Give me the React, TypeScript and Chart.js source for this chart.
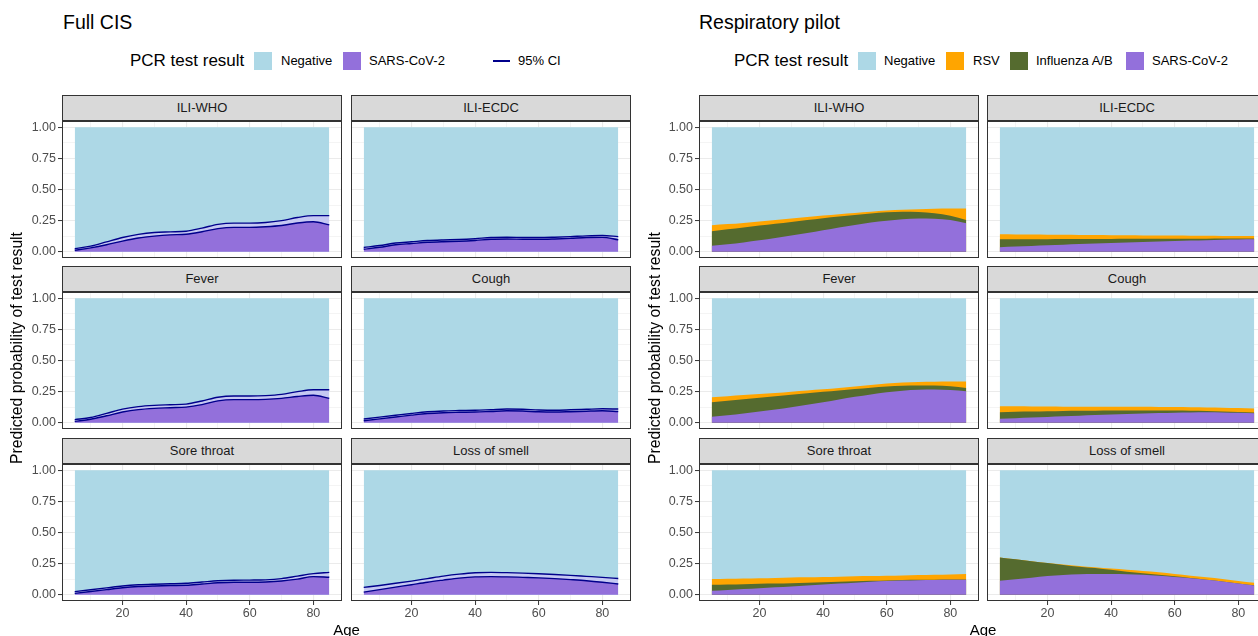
import React, { useEffect, useRef } from "react";
import { Chart, registerables } from "chart.js";

Chart.register(...registerables);

const FONT = "'Liberation Sans', Arial, Helvetica, sans-serif";

// ---------- data ----------
const AGES = [5, 10, 15, 20, 25, 30, 35, 40, 45, 50, 55, 60, 65, 70, 75, 80, 85];
const FACETS = ["ILI-WHO", "ILI-ECDC", "Fever", "Cough", "Sore throat", "Loss of smell"];
const X_GRID = [10, 20, 30, 40, 50, 60, 70, 80];
const X_LABELS = [20, 40, 60, 80];
const Y_GRID = [0, 0.125, 0.25, 0.375, 0.5, 0.625, 0.75, 0.875, 1];
const Y_LABELS = [0, 0.25, 0.5, 0.75, 1];
const TOTAL = [1, 1, 1, 1, 1, 1, 1, 1, 1, 1, 1, 1, 1, 1, 1, 1, 1];

// Full CIS: SARS-CoV-2 predicted probability with 95% CI
const cisWhoEst = [0.015, 0.035, 0.06, 0.09, 0.115, 0.13, 0.14, 0.145, 0.165, 0.19, 0.2, 0.2, 0.205, 0.215, 0.235, 0.245, 0.22];
const cisWhoLo = [0.012, 0.031, 0.056, 0.086, 0.111, 0.126, 0.136, 0.141, 0.161, 0.186, 0.196, 0.196, 0.201, 0.211, 0.231, 0.241, 0.216];
const cisWhoHi = [0.025, 0.045, 0.08, 0.115, 0.14, 0.155, 0.16, 0.165, 0.19, 0.22, 0.23, 0.23, 0.235, 0.25, 0.275, 0.29, 0.29];

const cisEcdcEst = [0.024, 0.04, 0.06, 0.07, 0.08, 0.085, 0.088, 0.095, 0.105, 0.107, 0.105, 0.104, 0.107, 0.112, 0.118, 0.12, 0.1];
const cisEcdcLo = [0.02, 0.036, 0.056, 0.066, 0.076, 0.081, 0.084, 0.091, 0.101, 0.103, 0.101, 0.1, 0.103, 0.108, 0.114, 0.116, 0.096];
const cisEcdcHi = [0.034, 0.05, 0.07, 0.08, 0.09, 0.095, 0.098, 0.105, 0.115, 0.117, 0.115, 0.114, 0.117, 0.122, 0.128, 0.131, 0.122];

const cisFeverEst = [0.015, 0.032, 0.06, 0.09, 0.11, 0.12, 0.125, 0.13, 0.15, 0.18, 0.19, 0.19, 0.192, 0.2, 0.215, 0.225, 0.2];
const cisFeverLo = [0.011, 0.028, 0.056, 0.086, 0.106, 0.116, 0.121, 0.126, 0.146, 0.176, 0.186, 0.186, 0.188, 0.196, 0.211, 0.221, 0.196];
const cisFeverHi = [0.025, 0.042, 0.075, 0.11, 0.13, 0.14, 0.145, 0.15, 0.175, 0.205, 0.215, 0.215, 0.218, 0.228, 0.25, 0.265, 0.265];

const cisCoughEst = [0.02, 0.035, 0.05, 0.065, 0.078, 0.085, 0.088, 0.09, 0.095, 0.1, 0.098, 0.092, 0.09, 0.093, 0.097, 0.1, 0.095];
const cisCoughLo = [0.016, 0.031, 0.046, 0.061, 0.074, 0.081, 0.084, 0.086, 0.091, 0.096, 0.094, 0.088, 0.086, 0.089, 0.093, 0.096, 0.091];
const cisCoughHi = [0.03, 0.045, 0.06, 0.075, 0.088, 0.095, 0.098, 0.1, 0.105, 0.11, 0.108, 0.103, 0.101, 0.104, 0.108, 0.112, 0.11];

const cisSoreEst = [0.015, 0.03, 0.045, 0.06, 0.07, 0.075, 0.078, 0.08, 0.09, 0.1, 0.105, 0.105, 0.107, 0.115, 0.13, 0.15, 0.145];
const cisSoreLo = [0.011, 0.026, 0.041, 0.056, 0.066, 0.071, 0.074, 0.076, 0.086, 0.096, 0.101, 0.101, 0.103, 0.111, 0.126, 0.146, 0.141];
const cisSoreHi = [0.025, 0.04, 0.055, 0.07, 0.08, 0.085, 0.088, 0.092, 0.102, 0.112, 0.117, 0.118, 0.12, 0.13, 0.15, 0.17, 0.18];

const cisSmellEst = [0.025, 0.045, 0.065, 0.085, 0.105, 0.122, 0.138, 0.148, 0.15, 0.148, 0.144, 0.14, 0.134, 0.126, 0.117, 0.105, 0.091];
const cisSmellLo = [0.021, 0.041, 0.061, 0.081, 0.101, 0.118, 0.134, 0.144, 0.146, 0.144, 0.14, 0.136, 0.13, 0.122, 0.113, 0.101, 0.087];
const cisSmellHi = [0.059, 0.075, 0.092, 0.11, 0.13, 0.15, 0.166, 0.177, 0.18, 0.178, 0.174, 0.169, 0.163, 0.156, 0.148, 0.14, 0.131];

// Respiratory pilot: predicted probability of each positive result
const respWhoSars = [0.048, 0.06, 0.075, 0.092, 0.11, 0.13, 0.15, 0.172, 0.195, 0.215, 0.235, 0.25, 0.262, 0.267, 0.265, 0.255, 0.23];
const respWhoFlu = [0.117, 0.12, 0.12, 0.118, 0.115, 0.11, 0.105, 0.098, 0.088, 0.08, 0.073, 0.068, 0.06, 0.053, 0.045, 0.035, 0.025];
const respWhoRsv = [0.047, 0.042, 0.037, 0.033, 0.03, 0.027, 0.024, 0.021, 0.019, 0.017, 0.014, 0.014, 0.016, 0.022, 0.035, 0.057, 0.093];

const respEcdcSars = [0.037, 0.042, 0.047, 0.052, 0.057, 0.062, 0.066, 0.07, 0.074, 0.078, 0.082, 0.086, 0.09, 0.093, 0.096, 0.098, 0.1];
const respEcdcFlu = [0.063, 0.058, 0.054, 0.049, 0.045, 0.04, 0.037, 0.033, 0.03, 0.026, 0.023, 0.019, 0.015, 0.012, 0.01, 0.008, 0.007];
const respEcdcRsv = [0.04, 0.039, 0.037, 0.036, 0.034, 0.033, 0.031, 0.03, 0.028, 0.027, 0.026, 0.025, 0.024, 0.023, 0.021, 0.02, 0.02];

const respFeverSars = [0.048, 0.06, 0.075, 0.09, 0.107, 0.125, 0.145, 0.165, 0.187, 0.208, 0.228, 0.245, 0.258, 0.265, 0.267, 0.263, 0.253];
const respFeverFlu = [0.117, 0.116, 0.113, 0.11, 0.106, 0.1, 0.092, 0.084, 0.073, 0.063, 0.054, 0.047, 0.04, 0.035, 0.033, 0.03, 0.027];
const respFeverRsv = [0.04, 0.037, 0.034, 0.031, 0.027, 0.025, 0.023, 0.021, 0.02, 0.021, 0.022, 0.023, 0.025, 0.028, 0.03, 0.038, 0.051];

const respCoughSars = [0.032, 0.037, 0.042, 0.047, 0.052, 0.057, 0.062, 0.066, 0.07, 0.074, 0.078, 0.081, 0.083, 0.084, 0.083, 0.08, 0.076];
const respCoughFlu = [0.053, 0.051, 0.048, 0.045, 0.042, 0.039, 0.035, 0.032, 0.029, 0.025, 0.021, 0.017, 0.013, 0.01, 0.008, 0.007, 0.006];
const respCoughRsv = [0.048, 0.044, 0.041, 0.038, 0.035, 0.033, 0.031, 0.03, 0.029, 0.029, 0.028, 0.028, 0.029, 0.029, 0.03, 0.031, 0.033];

const respSoreSars = [0.032, 0.039, 0.046, 0.053, 0.06, 0.067, 0.075, 0.083, 0.09, 0.097, 0.104, 0.11, 0.114, 0.117, 0.119, 0.12, 0.12];
const respSoreFlu = [0.048, 0.044, 0.039, 0.035, 0.03, 0.026, 0.022, 0.017, 0.014, 0.011, 0.008, 0.005, 0.004, 0.003, 0.002, 0.002, 0.003];
const respSoreRsv = [0.046, 0.045, 0.045, 0.045, 0.045, 0.045, 0.043, 0.043, 0.041, 0.04, 0.038, 0.038, 0.037, 0.038, 0.039, 0.041, 0.043];

const respSmellSars = [0.112, 0.125, 0.137, 0.15, 0.158, 0.164, 0.166, 0.167, 0.165, 0.16, 0.152, 0.142, 0.132, 0.12, 0.106, 0.09, 0.075];
const respSmellFlu = [0.188, 0.16, 0.133, 0.105, 0.082, 0.062, 0.049, 0.033, 0.02, 0.012, 0.008, 0.006, 0.002, 0.001, 0.001, 0.001, 0.001];
const respSmellRsv = [0, 0, 0, 0.001, 0.003, 0.005, 0.005, 0.01, 0.015, 0.018, 0.02, 0.019, 0.019, 0.019, 0.019, 0.02, 0.02];

// ---------- style ----------
const C_NEG = "#ADD8E6";
const C_SARS = "#9370DB";
const C_FLU = "#556B2F";
const C_RSV = "#FFA500";
const C_CI = "#00008B";
const C_BAND = "rgba(205,195,245,0.75)";

const PW = 280;
const PH = 137;
const STRIP_H = 26;
const ROW_TOPS = [121, 292, 464];
const AXIS_W = 50;
const AXIS_H = 24;

const pts = (v: number[]) => AGES.map((a, i) => ({ x: a, y: v[i] }));

function cisSets(est: number[], lo: number[], hi: number[]) {
  return [
    { label: "Negative", data: pts(TOTAL), backgroundColor: C_NEG, borderWidth: 0, fill: "origin", order: 3 },
    { label: "SARS-CoV-2", data: pts(est), backgroundColor: C_SARS, borderWidth: 0, fill: "origin", order: 2 },
    { label: "lower", data: pts(lo), borderColor: C_CI, borderWidth: 1.4, fill: false, order: 0 },
    { label: "upper", data: pts(hi), borderColor: C_CI, borderWidth: 1.4, backgroundColor: C_BAND, fill: "-1", order: 0 },
  ];
}

// stacked: order sets both stacking (low first) and drawing (high first)
function respSets(sars: number[], flu: number[], rsv: number[]) {
  return [
    { label: "Negative", data: pts(TOTAL), stack: "neg", backgroundColor: C_NEG, borderWidth: 0, fill: "origin", order: 3 },
    { label: "SARS-CoV-2", data: pts(sars), stack: "pos", backgroundColor: C_SARS, borderWidth: 0, fill: "origin", order: 0 },
    { label: "Influenza A/B", data: pts(flu), stack: "pos", backgroundColor: C_FLU, borderWidth: 0, fill: "origin", order: 1 },
    { label: "RSV", data: pts(rsv), stack: "pos", backgroundColor: C_RSV, borderWidth: 0, fill: "origin", order: 2 },
  ];
}

const CIS_TABLE = [
  () => cisSets(cisWhoEst, cisWhoLo, cisWhoHi),
  () => cisSets(cisEcdcEst, cisEcdcLo, cisEcdcHi),
  () => cisSets(cisFeverEst, cisFeverLo, cisFeverHi),
  () => cisSets(cisCoughEst, cisCoughLo, cisCoughHi),
  () => cisSets(cisSoreEst, cisSoreLo, cisSoreHi),
  () => cisSets(cisSmellEst, cisSmellLo, cisSmellHi),
];
const RESP_TABLE = [
  () => respSets(respWhoSars, respWhoFlu, respWhoRsv),
  () => respSets(respEcdcSars, respEcdcFlu, respEcdcRsv),
  () => respSets(respFeverSars, respFeverFlu, respFeverRsv),
  () => respSets(respCoughSars, respCoughFlu, respCoughRsv),
  () => respSets(respSoreSars, respSoreFlu, respSoreRsv),
  () => respSets(respSmellSars, respSmellFlu, respSmellRsv),
];

type PanelProps = {
  x: number;
  y: number;
  title: string;
  firstCol: boolean;
  lastRow: boolean;
  stacked: boolean;
  makeSets: () => any[];
};

function Panel({ x, y, title, firstCol, lastRow, stacked, makeSets }: PanelProps) {
  const ref = useRef<HTMLCanvasElement>(null);
  const padL = firstCol ? AXIS_W : 0;
  const padB = lastRow ? AXIS_H : 0;

  useEffect(() => {
    const tickFont = { family: FONT, size: 12.5, lineHeight: 1 };
    const chart = new Chart(ref.current as HTMLCanvasElement, {
      type: "line",
      data: { datasets: makeSets() as any },
      options: {
        responsive: false,
        animation: false,
        devicePixelRatio: 1,
        layout: { padding: 0 },
        events: [],
        plugins: { legend: { display: false }, tooltip: { enabled: false }, title: { display: false } },
        elements: { point: { radius: 0 }, line: { cubicInterpolationMode: "monotone" } },
        scales: {
          x: {
            type: "linear",
            min: 1,
            max: 89,
            afterBuildTicks: (s: any) => {
              s.ticks = X_GRID.map((v) => ({ value: v }));
            },
            afterFit: (s: any) => {
              s.height = padB;
              s.paddingLeft = 0;
              s.paddingRight = 0;
              s.paddingTop = 0;
              s.paddingBottom = 0;
            },
            ticks: {
              display: lastRow,
              autoSkip: false,
              maxRotation: 0,
              padding: 2,
              color: "#4D4D4D",
              font: tickFont,
              callback: (v: any) => (X_LABELS.includes(Number(v)) ? String(v) : ""),
            },
            grid: {
              color: "#EBEBEB",
              lineWidth: (c: any) => (X_LABELS.includes(c.tick?.value) ? 1.1 : 0.55),
              drawTicks: lastRow,
              tickLength: 4,
              tickWidth: 1,
              tickColor: (c: any) => (X_LABELS.includes(c.tick?.value) ? "#333333" : "rgba(0,0,0,0)"),
            },
            border: { display: false },
          },
          y: {
            type: "linear",
            min: -0.05,
            max: 1.05,
            stacked: stacked,
            afterBuildTicks: (s: any) => {
              s.ticks = Y_GRID.map((v) => ({ value: v }));
            },
            afterFit: (s: any) => {
              s.width = padL;
              s.paddingLeft = 0;
              s.paddingRight = 0;
              s.paddingTop = 0;
              s.paddingBottom = 0;
            },
            ticks: {
              display: firstCol,
              autoSkip: false,
              padding: 2,
              color: "#4D4D4D",
              font: tickFont,
              callback: (v: any) => (Y_LABELS.includes(Number(v)) ? Number(v).toFixed(2) : ""),
            },
            grid: {
              color: "#EBEBEB",
              lineWidth: (c: any) => (Y_LABELS.includes(c.tick?.value) ? 1.1 : 0.55),
              drawTicks: firstCol,
              tickLength: 4,
              tickWidth: 1,
              tickColor: (c: any) => (Y_LABELS.includes(c.tick?.value) ? "#333333" : "rgba(0,0,0,0)"),
            },
            border: { display: false },
          },
        },
      } as any,
    });
    return () => chart.destroy();
  }, []);

  return (
    <>
      <div
        style={{
          position: "absolute",
          left: x,
          top: y - STRIP_H,
          width: PW,
          height: STRIP_H,
          boxSizing: "border-box",
          background: "#D9D9D9",
          border: "1px solid #333333",
          color: "#1A1A1A",
          fontSize: 13,
          lineHeight: `${STRIP_H - 2}px`,
          textAlign: "center",
        }}
      >
        {title}
      </div>
      <canvas
        ref={ref}
        width={PW + padL}
        height={PH + padB}
        style={{ position: "absolute", left: x - padL, top: y, width: PW + padL, height: PH + padB }}
      />
      <div
        style={{
          position: "absolute",
          left: x,
          top: y,
          width: PW,
          height: PH,
          boxSizing: "border-box",
          border: "1px solid #333333",
          pointerEvents: "none",
        }}
      />
    </>
  );
}

type LegendItem = { kind: "box" | "line"; color: string; label: string; boxX: number; textX: number };

function Legend({ titleX, items }: { titleX: number; items: LegendItem[] }) {
  return (
    <>
      <div style={{ position: "absolute", left: titleX, top: 50, fontSize: 17, lineHeight: "22px", color: "#000" }}>
        PCR test result
      </div>
      {items.map((it) => (
        <React.Fragment key={it.label}>
          {it.kind === "box" ? (
            <div style={{ position: "absolute", left: it.boxX, top: 52, width: 18, height: 18, background: it.color }} />
          ) : (
            <div style={{ position: "absolute", left: it.boxX, top: 60, width: 17, height: 1.5, background: it.color }} />
          )}
          <div style={{ position: "absolute", left: it.textX, top: 52, fontSize: 13, lineHeight: "18px", color: "#000" }}>
            {it.label}
          </div>
        </React.Fragment>
      ))}
    </>
  );
}

function Group({
  title,
  cols,
  stacked,
  table,
  titleX,
  legend,
  yTitleX,
}: {
  title: string;
  cols: number[];
  stacked: boolean;
  table: (() => any[])[];
  titleX: number;
  legend: { titleX: number; items: LegendItem[] };
  yTitleX: number;
}) {
  const midX = (cols[0] + cols[1] + PW) / 2;
  const midY = (ROW_TOPS[0] - STRIP_H + ROW_TOPS[2] + PH) / 2;
  return (
    <>
      <div style={{ position: "absolute", left: titleX, top: 10, fontSize: 19.5, lineHeight: "24px", color: "#000" }}>
        {title}
      </div>
      <Legend titleX={legend.titleX} items={legend.items} />
      {FACETS.map((f, i) => {
        const r = Math.floor(i / 2);
        const c = i % 2;
        return (
          <Panel
            key={f}
            x={cols[c]}
            y={ROW_TOPS[r]}
            title={f}
            firstCol={c === 0}
            lastRow={r === 2}
            stacked={stacked}
            makeSets={table[i]}
          />
        );
      })}
      <div
        style={{
          position: "absolute",
          left: midX - 50,
          width: 100,
          top: 621,
          fontSize: 15,
          lineHeight: "18px",
          textAlign: "center",
          color: "#000",
        }}
      >
        Age
      </div>
      <div
        style={{
          position: "absolute",
          left: yTitleX - 200,
          top: midY - 10,
          width: 400,
          height: 20,
          fontSize: 15.7,
          lineHeight: "20px",
          textAlign: "center",
          color: "#000",
          transform: "rotate(-90deg)",
          whiteSpace: "nowrap",
        }}
      >
        Predicted probability of test result
      </div>
    </>
  );
}

export default function App() {
  return (
    <div
      style={{
        position: "fixed",
        left: 0,
        top: 0,
        width: 1258,
        height: 636,
        overflow: "hidden",
        background: "#FFFFFF",
        fontFamily: FONT,
      }}
    >
      <Group
        title="Full CIS"
        cols={[62, 351]}
        stacked={false}
        table={CIS_TABLE}
        titleX={63}
        yTitleX={17}
        legend={{
          titleX: 130,
          items: [
            { kind: "box", color: C_NEG, label: "Negative", boxX: 254, textX: 281 },
            { kind: "box", color: C_SARS, label: "SARS-CoV-2", boxX: 343, textX: 369 },
            { kind: "line", color: C_CI, label: "95% CI", boxX: 493, textX: 518 },
          ],
        }}
      />
      <Group
        title="Respiratory pilot"
        cols={[699, 987]}
        stacked={true}
        table={RESP_TABLE}
        titleX={699}
        yTitleX={655}
        legend={{
          titleX: 734,
          items: [
            { kind: "box", color: C_NEG, label: "Negative", boxX: 858, textX: 884 },
            { kind: "box", color: C_RSV, label: "RSV", boxX: 946, textX: 973 },
            { kind: "box", color: C_FLU, label: "Influenza A/B", boxX: 1010, textX: 1036 },
            { kind: "box", color: C_SARS, label: "SARS-CoV-2", boxX: 1126, textX: 1152 },
          ],
        }}
      />
    </div>
  );
}
